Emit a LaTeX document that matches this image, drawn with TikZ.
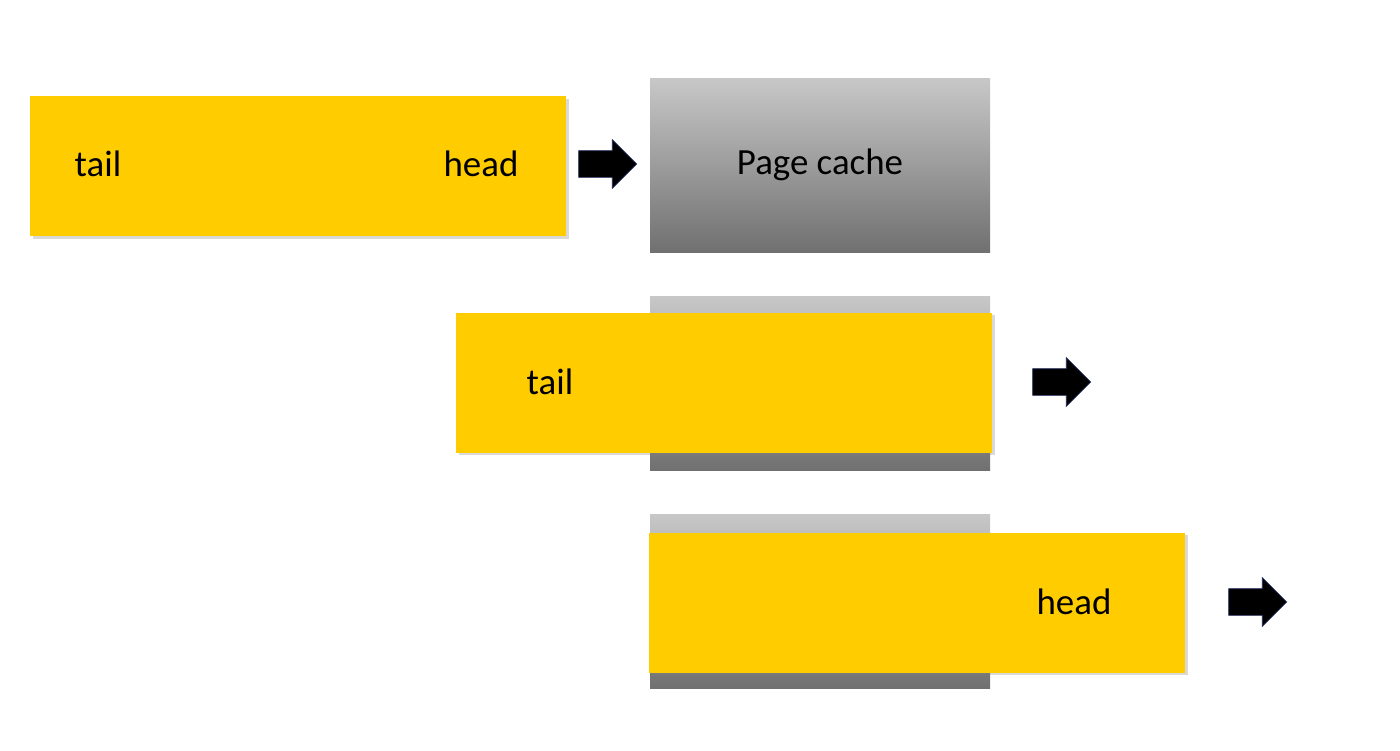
\documentclass[tikz,border=0pt]{standalone}
\usepackage{fontspec}
\setmainfont{Carlito}
\usetikzlibrary{shapes,arrows,positioning,shadows}
\definecolor{logyellow}{RGB}{255,204,0}
\definecolor{cachetop}{RGB}{200,200,200}
\definecolor{cachebot}{RGB}{112,112,112}
\definecolor{arrowrim}{RGB}{30,40,90}
\begin{document}
\begin{tikzpicture}[
    segment/.style={rectangle, fill=logyellow, minimum width=10.72cm, minimum height=2.8cm, drop shadow={shadow xshift=0.05cm, shadow yshift=-0.05cm, opacity=0.3}},
    cache/.style={rectangle, top color=cachetop, bottom color=cachebot, minimum width=6.8cm, minimum height=3.48cm, font=\fontsize{21}{25}\selectfont},
    label/.style={font=\fontsize{21}{25}\selectfont, inner sep=0pt},
    push/.style={single arrow, draw=arrowrim, fill=black, minimum height=1.16cm, inner xsep=0pt, inner ysep=0.26cm, single arrow head extend=0.22cm}
]
    \useasboundingbox (0,0) rectangle (28,-15);

    % Row 1
    \node[segment] (log1) at (5.96,-3.32) {};
    \node[label] (tail1) at (1.96,-3.28) {tail};
    \node[label] (head1) at (9.62,-3.28) {head};
    \node[push] (push1) at (12.02,-3.28) {};
    \node[cache] (cache1) at (16.4,-3.3) {Page cache};

    % Row 2
    \node[cache] (cache2) at (16.4,-7.66) {};
    \node[segment] (log2) at (14.48,-7.65) {};
    \node[label] (tail2) at (11.0,-7.64) {tail};
    \node[push] (push2) at (21.1,-7.64) {};

    % Row 3
    \node[cache] (cache3) at (16.4,-12.02) {};
    \node[segment] (log3) at (18.34,-12.05) {};
    \node[label] (head3) at (21.48,-12.04) {head};
    \node[push] (push3) at (25.02,-12.04) {};

\end{tikzpicture}
\end{document}
